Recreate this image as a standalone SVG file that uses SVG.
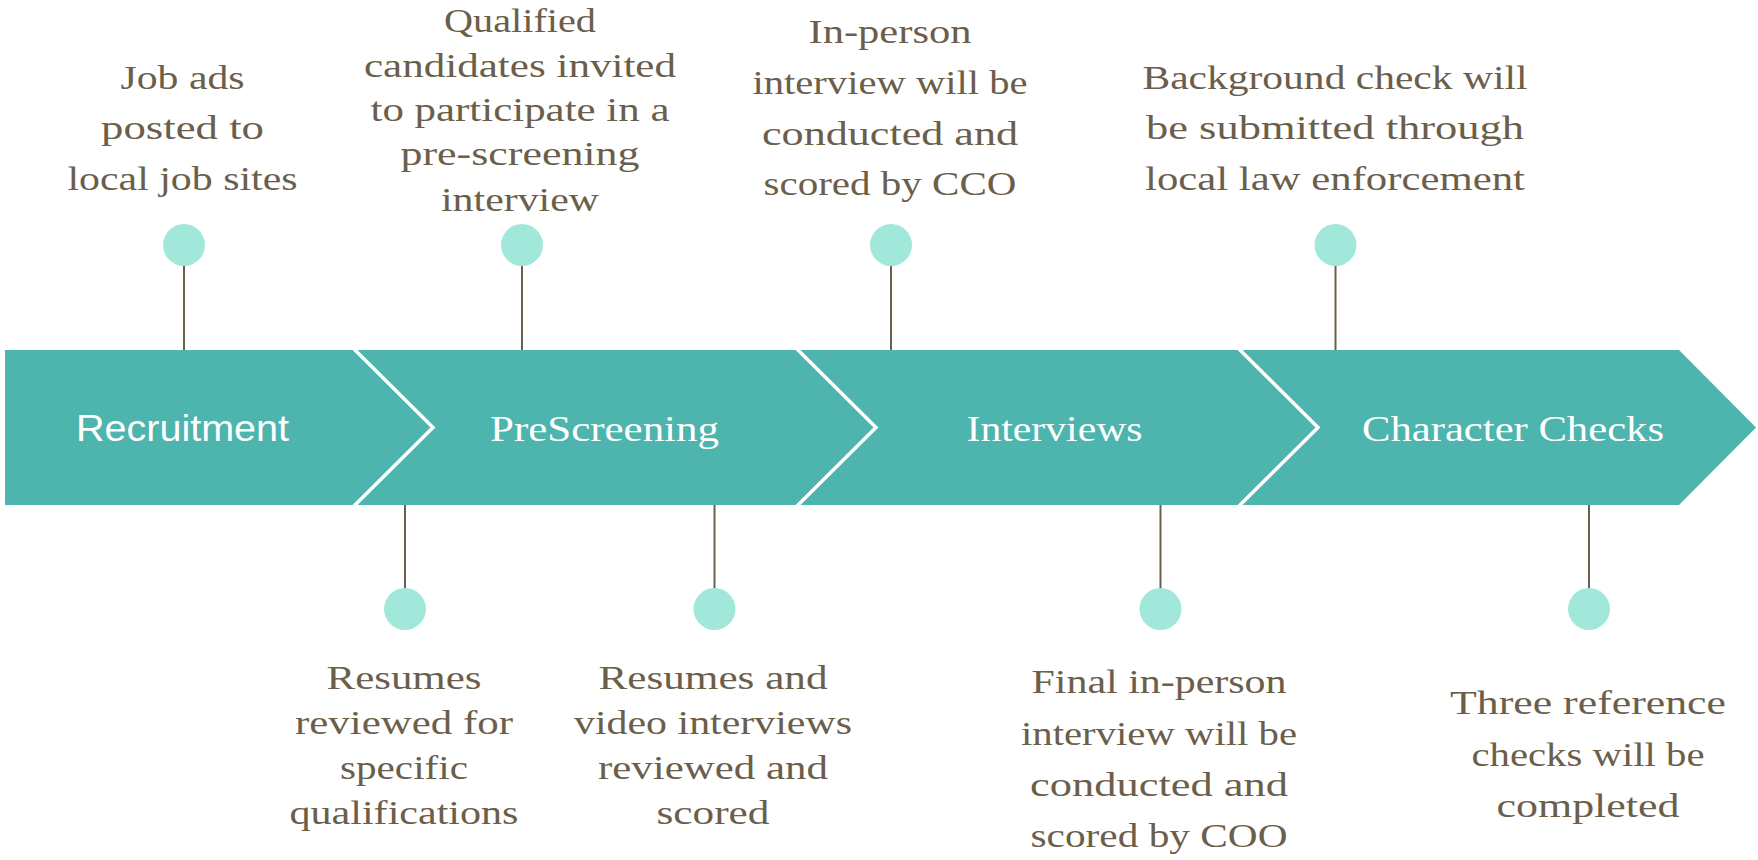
<svg xmlns="http://www.w3.org/2000/svg" width="1758" height="860" viewBox="0 0 1758 860">
<style>
.band{fill:#4DB5AD;}
.div{fill:none;stroke:#FFFFFF;stroke-width:3.5;}
.stem{stroke:#6B5E4B;stroke-width:2;}
.dot{fill:#A1E8DA;}
.t{font-family:"Liberation Serif","Times New Roman",serif;font-size:34px;fill:#6B5E4B;text-anchor:middle;}
.lbl{font-family:"Liberation Serif","Times New Roman",serif;font-size:36px;fill:#FFFFFF;text-anchor:middle;}
.lbls{font-family:"Liberation Sans",Arial,sans-serif;font-size:37px;fill:#FFFFFF;}
</style>
<rect width="1758" height="860" fill="#FFFFFF"/>
<g id="band">
<polygon class="band" points="5,350 1679,350 1756,427.5 1679,505 5,505"/>
</g>
<g id="connectors">
<line class="stem" x1="184" y1="262" x2="184" y2="350"/>
<line class="stem" x1="522" y1="262" x2="522" y2="350"/>
<line class="stem" x1="891" y1="262" x2="891" y2="350"/>
<line class="stem" x1="1335.5" y1="262" x2="1335.5" y2="350"/>
<line class="stem" x1="405" y1="505" x2="405" y2="592"/>
<line class="stem" x1="714.5" y1="505" x2="714.5" y2="592"/>
<line class="stem" x1="1160.5" y1="505" x2="1160.5" y2="592"/>
<line class="stem" x1="1589" y1="505" x2="1589" y2="592"/>
</g>
<g id="dividers">
<polyline class="div" points="354,349 433,427.5 354,506"/>
<polyline class="div" points="797,349 876,427.5 797,506"/>
<polyline class="div" points="1239,349 1318,427.5 1239,506"/>
</g>
<g id="stage-recruitment">
<text class="lbls" x="76" y="441" textLength="213" lengthAdjust="spacingAndGlyphs">Recruitment</text>
</g>
<g id="stage-prescreening">
<text class="lbl" x="604.5" y="441" textLength="229" lengthAdjust="spacingAndGlyphs">PreScreening</text>
</g>
<g id="stage-interviews">
<text class="lbl" x="1054.5" y="441" textLength="176" lengthAdjust="spacingAndGlyphs">Interviews</text>
</g>
<g id="stage-character">
<text class="lbl" x="1513" y="441" textLength="302" lengthAdjust="spacingAndGlyphs">Character Checks</text>
</g>
<g id="event-1">
<circle class="dot" cx="184" cy="245" r="21"/>
<text class="t" x="182.5" y="89" textLength="124" lengthAdjust="spacingAndGlyphs">Job ads</text>
<text class="t" x="182.5" y="139" textLength="163" lengthAdjust="spacingAndGlyphs">posted to</text>
<text class="t" x="182.5" y="190" textLength="230" lengthAdjust="spacingAndGlyphs">local job sites</text>
</g>
<g id="event-2">
<circle class="dot" cx="522" cy="245" r="21"/>
<text class="t" x="520" y="32" textLength="152" lengthAdjust="spacingAndGlyphs">Qualified</text>
<text class="t" x="520" y="77" textLength="312" lengthAdjust="spacingAndGlyphs">candidates invited</text>
<text class="t" x="520" y="121" textLength="299" lengthAdjust="spacingAndGlyphs">to participate in a</text>
<text class="t" x="520" y="165" textLength="239" lengthAdjust="spacingAndGlyphs">pre-screening</text>
<text class="t" x="520" y="211" textLength="158" lengthAdjust="spacingAndGlyphs">interview</text>
</g>
<g id="event-3">
<circle class="dot" cx="891" cy="245" r="21"/>
<text class="t" x="890" y="43" textLength="163" lengthAdjust="spacingAndGlyphs">In-person</text>
<text class="t" x="890" y="94" textLength="275" lengthAdjust="spacingAndGlyphs">interview will be</text>
<text class="t" x="890" y="145" textLength="256" lengthAdjust="spacingAndGlyphs">conducted and</text>
<text class="t" x="890" y="195" textLength="253" lengthAdjust="spacingAndGlyphs">scored by CCO</text>
</g>
<g id="event-4">
<circle class="dot" cx="1335.5" cy="245" r="21"/>
<text class="t" x="1335" y="89" textLength="385" lengthAdjust="spacingAndGlyphs">Background check will</text>
<text class="t" x="1335" y="139" textLength="378" lengthAdjust="spacingAndGlyphs">be submitted through</text>
<text class="t" x="1335" y="190" textLength="380" lengthAdjust="spacingAndGlyphs">local law enforcement</text>
</g>
<g id="event-5">
<circle class="dot" cx="405" cy="609" r="21"/>
<text class="t" x="404" y="689" textLength="155" lengthAdjust="spacingAndGlyphs">Resumes</text>
<text class="t" x="404" y="734" textLength="218" lengthAdjust="spacingAndGlyphs">reviewed for</text>
<text class="t" x="404" y="779" textLength="128" lengthAdjust="spacingAndGlyphs">specific</text>
<text class="t" x="404" y="824" textLength="229" lengthAdjust="spacingAndGlyphs">qualifications</text>
</g>
<g id="event-6">
<circle class="dot" cx="714.5" cy="609" r="21"/>
<text class="t" x="713" y="689" textLength="229" lengthAdjust="spacingAndGlyphs">Resumes and</text>
<text class="t" x="713" y="734" textLength="278" lengthAdjust="spacingAndGlyphs">video interviews</text>
<text class="t" x="713" y="779" textLength="230" lengthAdjust="spacingAndGlyphs">reviewed and</text>
<text class="t" x="713" y="824" textLength="113" lengthAdjust="spacingAndGlyphs">scored</text>
</g>
<g id="event-7">
<circle class="dot" cx="1160.5" cy="609" r="21"/>
<text class="t" x="1159" y="693" textLength="255" lengthAdjust="spacingAndGlyphs">Final in-person</text>
<text class="t" x="1159" y="745" textLength="276" lengthAdjust="spacingAndGlyphs">interview will be</text>
<text class="t" x="1159" y="796" textLength="258" lengthAdjust="spacingAndGlyphs">conducted and</text>
<text class="t" x="1159" y="847" textLength="257" lengthAdjust="spacingAndGlyphs">scored by COO</text>
</g>
<g id="event-8">
<circle class="dot" cx="1589" cy="609" r="21"/>
<text class="t" x="1588" y="714" textLength="276" lengthAdjust="spacingAndGlyphs">Three reference</text>
<text class="t" x="1588" y="766" textLength="233" lengthAdjust="spacingAndGlyphs">checks will be</text>
<text class="t" x="1588" y="817" textLength="183" lengthAdjust="spacingAndGlyphs">completed</text>
</g>
</svg>
